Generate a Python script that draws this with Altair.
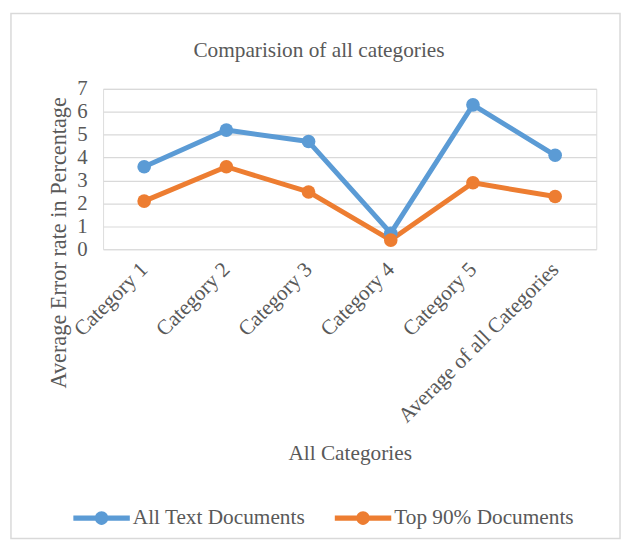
import altair as alt
import pandas as pd

categories = ["Category 1", "Category 2", "Category 3", "Category 4", "Category 5", "Average of all Categories"]
all_text = [3.6, 5.2, 4.7, 0.7, 6.3, 4.1]
top90 = [2.1, 3.6, 2.5, 0.4, 2.9, 2.3]
series_names = ["All Text Documents", "Top 90% Documents"]
y_ticks = [0, 1, 2, 3, 4, 5, 6, 7]

rows = []
for s, vals in zip(series_names, [all_text, top90]):
    for c, v in zip(categories, vals):
        rows.append({"category": c, "value": v, "series": s})
df = pd.DataFrame(rows)

FONT = "Liberation Serif"
GRAY = "#595959"

color = alt.Color(
    "series:N",
    scale=alt.Scale(domain=series_names, range=["#5B9BD5", "#ED7D31"]),
    legend=alt.Legend(
        title=None,
        orient="none",
        legendX=-30,
        legendY=405,
        direction="horizontal",
        symbolType="M-1,-0.09 L1,-0.09 L1,0.09 L-1,0.09 Z M-0.24,0 A0.24,0.24 0 1,1 0.24,0 A0.24,0.24 0 1,1 -0.24,0 Z",
        symbolSize=3249,
        symbolStrokeWidth=0,
        labelFont=FONT,
        labelFontSize=21.5,
        labelColor=GRAY,
        labelOffset=3,
        labelLimit=400,
        columnPadding=29,
    ),
)

x = alt.X(
    "category:N",
    sort=categories,
    scale=alt.Scale(type="point", padding=0.5),
    axis=alt.Axis(
        title="All Categories",
        labelAngle=-45,
        labelAlign="right",
        labelBaseline="middle",
        labelFont=FONT,
        labelFontSize=21.5,
        labelColor=GRAY,
        labelPadding=17,
        labelLimit=400,
        ticks=False,
        domain=False,
        grid=False,
        titleFont=FONT,
        titleFontSize=21.5,
        titleFontWeight="normal",
        titleColor=GRAY,
        titleY=206,
        titleX=249,
        titleBaseline="middle",
    ),
)

y = alt.Y(
    "value:Q",
    scale=alt.Scale(domain=[0, 7]),
    axis=alt.Axis(
        title="Average Error  rate in Percentage",
        values=y_ticks,
        labelFont=FONT,
        labelFontSize=21,
        labelColor=GRAY,
        labelPadding=16,
        ticks=False,
        domain=False,
        gridColor="#D9D9D9",
        gridWidth=1.2,
        titleFont=FONT,
        titleFontSize=22.5,
        titleFontWeight="normal",
        titleColor=GRAY,
        titleAngle=-90,
        titleX=-45,
        titleY=155,
        titleAlign="center",
        titleBaseline="middle",
    ),
)

base = alt.Chart(df)
lines = base.mark_line(strokeWidth=5, strokeCap="round", strokeJoin="round").encode(x=x, y=y, color=color)
points = base.mark_point(filled=True, size=190, opacity=1).encode(x=x, y=y, color=color)

border = alt.Chart(alt.Data(values=[{"a": 1}])).mark_rect(
    fill=None, stroke="#D9D9D9", strokeWidth=1.5
).encode(
    x=alt.value(-93), x2=alt.value(522), y=alt.value(-76), y2=alt.value(454)
)

chart = alt.layer(border, lines, points).properties(
    width=498,
    height=162,
    autosize=alt.AutoSizeParams(type="none"),
    padding={"left": 96, "top": 79, "right": 26, "bottom": 293},
    title=alt.TitleParams(
        "Comparision of all categories",
        font=FONT,
        fontSize=21.5,
        fontWeight="normal",
        color=GRAY,
        anchor="middle",
        baseline="alphabetic",
        dx=-31,
        offset=-66,
    ),
).configure_view(stroke=None).configure(background="white")

chart.save("out.html", embed_options={"renderer": "svg", "actions": False})
